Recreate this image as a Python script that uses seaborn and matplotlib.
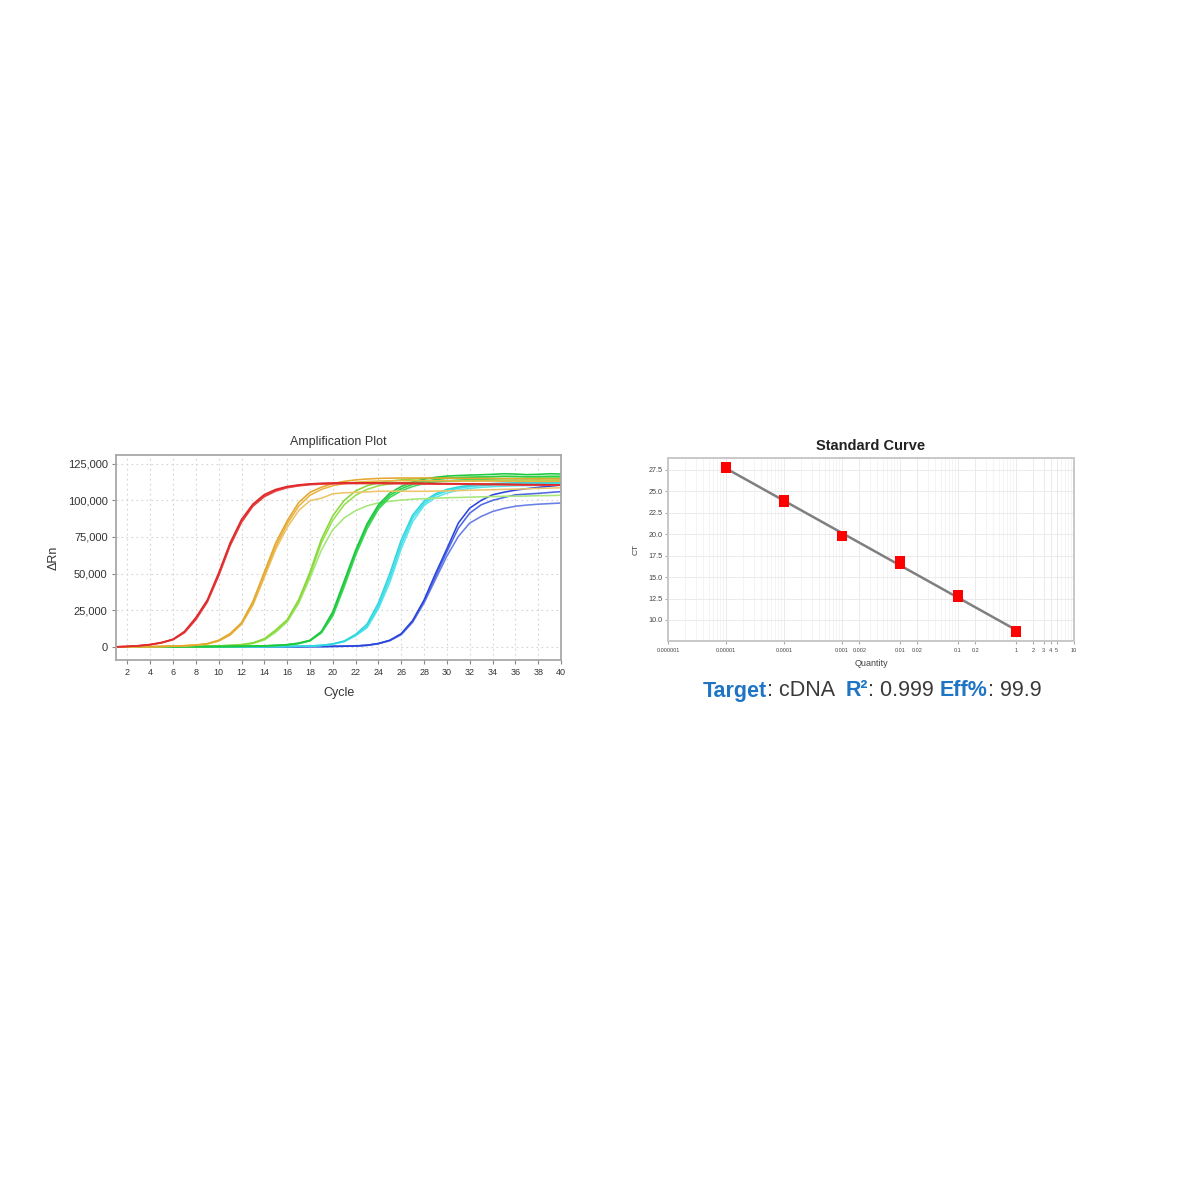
import numpy as np
import pandas as pd
import matplotlib
matplotlib.use("Agg")
import matplotlib.pyplot as plt
import matplotlib.ticker as mticker
from matplotlib.offsetbox import TextArea, HPacker, AnnotationBbox
import seaborn as sns

# ---- amplification plot data (delta Rn, thousands) ----
cycles = list(range(1, 41))

red_a = [0.0, 0.3, 0.8, 1.6, 3.0, 5.2, 10.5, 20.0, 32.0, 50.5,
         71.0, 87.0, 97.5, 104.0, 107.5, 109.5, 110.6, 111.3, 111.7, 111.9,
         112.0, 112.0, 112.0, 112.0, 111.9, 111.9, 111.8, 111.7, 111.6, 111.5,
         111.4, 111.3, 111.2, 111.1, 111.0, 110.9, 110.8, 110.8, 110.7, 110.6]
red_b = [0.0, 0.3, 0.7, 1.5, 2.8, 5.0, 10.0, 19.0, 31.0, 49.0,
         69.5, 85.5, 96.5, 103.0, 106.8, 109.0, 110.2, 111.0, 111.4, 111.6,
         111.7, 111.7, 111.7, 111.7, 111.6, 111.6, 111.5, 111.4, 111.3, 111.3,
         111.2, 111.1, 111.0, 110.9, 110.9, 110.8, 110.7, 110.6, 110.6, 110.5]
red_c = [0.0, 0.2, 0.7, 1.4, 2.7, 4.8, 9.6, 18.5, 30.5, 48.5,
         69.0, 85.0, 96.0, 102.5, 106.3, 108.6, 109.9, 110.7, 111.1, 111.3,
         111.4, 111.5, 111.5, 111.5, 111.4, 111.4, 111.3, 111.2, 111.1, 111.1,
         111.0, 110.9, 110.8, 110.8, 110.7, 110.6, 110.5, 110.5, 110.4, 110.4]

gold_a = [0.0, 0.0, 0.1, 0.2, 0.3, 0.5, 0.8, 1.2, 2.2, 4.5,
          9.0, 16.5, 31.0, 51.0, 71.0, 86.0, 98.5, 105.5, 109.0, 111.5,
          113.0, 114.0, 114.6, 115.0, 115.2, 115.3, 115.3, 115.3, 115.2, 115.2,
          115.1, 115.0, 115.0, 114.9, 114.9, 114.8, 114.8, 114.7, 114.7, 114.6]
gold_b = [0.0, 0.0, 0.1, 0.1, 0.2, 0.4, 0.7, 1.1, 2.0, 4.0,
          8.2, 15.5, 29.0, 48.5, 68.5, 84.0, 96.0, 103.5, 107.5, 110.0,
          111.5, 112.4, 112.9, 113.2, 113.4, 113.5, 113.5, 113.5, 113.4, 113.4,
          113.3, 113.3, 113.2, 113.2, 113.1, 113.1, 113.0, 113.0, 113.0, 113.0]
gold_c = [0.0, 0.0, 0.1, 0.1, 0.2, 0.4, 0.7, 1.1, 2.0, 4.0,
          8.0, 15.5, 28.5, 47.5, 66.5, 81.5, 93.0, 99.8, 101.5, 104.5,
          105.2, 105.5, 105.8, 106.2, 106.3, 106.3, 106.2, 106.2, 106.3, 106.5,
          106.7, 106.9, 107.1, 107.3, 107.5, 107.7, 107.9, 108.2, 108.4, 108.6]

lgreen_a = [0.0, 0.0, 0.0, 0.0, 0.1, 0.1, 0.2, 0.3, 0.5, 0.7,
            1.0, 1.5, 2.7, 5.5, 11.5, 18.5, 32.0, 51.0, 73.5, 89.5,
            100.0, 106.5, 110.0, 112.0, 113.2, 114.0, 114.6, 115.0, 115.3, 115.5,
            115.7, 115.8, 116.0, 116.2, 116.3, 116.2, 116.0, 115.9, 116.0, 116.0]
lgreen_b = [0.0, 0.0, 0.0, 0.0, 0.1, 0.1, 0.2, 0.3, 0.4, 0.6,
            0.9, 1.4, 2.5, 5.0, 10.5, 17.5, 30.5, 49.0, 71.0, 86.5,
            97.0, 103.5, 107.5, 110.0, 111.3, 112.0, 112.5, 112.8, 113.0, 113.1,
            113.2, 113.3, 113.4, 113.4, 113.5, 113.4, 113.3, 113.4, 113.5, 113.5]
lgreen_c = [0.0, 0.0, 0.0, 0.0, 0.1, 0.1, 0.2, 0.3, 0.4, 0.6,
            0.9, 1.3, 2.3, 4.7, 10.0, 17.0, 29.5, 47.0, 66.0, 80.0,
            88.0, 93.0, 96.3, 98.3, 99.4, 100.2, 100.8, 101.2, 101.5, 101.8,
            102.0, 102.2, 102.4, 102.6, 102.8, 102.9, 103.0, 103.2, 103.3, 103.5]

green_a = [0.0, 0.0, 0.0, 0.0, 0.0, 0.0, 0.1, 0.1, 0.2, 0.2,
           0.3, 0.4, 0.5, 0.7, 1.0, 1.5, 2.5, 4.5, 10.5, 24.0,
           45.0, 66.0, 84.0, 97.0, 105.0, 109.5, 112.5, 114.5, 115.8, 116.6,
           117.0, 117.3, 117.5, 117.8, 118.2, 118.0, 117.6, 117.8, 118.2, 118.0]
green_b = [0.0, 0.0, 0.0, 0.0, 0.0, 0.0, 0.1, 0.1, 0.1, 0.2,
           0.3, 0.3, 0.5, 0.7, 0.9, 1.4, 2.3, 4.2, 10.0, 22.5,
           43.0, 64.5, 82.5, 95.5, 103.5, 108.0, 111.0, 113.0, 114.2, 115.0,
           115.5, 115.8, 116.0, 116.2, 116.5, 116.4, 116.2, 116.3, 116.5, 116.5]
green_c = [0.0, 0.0, 0.0, 0.0, 0.0, 0.0, 0.1, 0.1, 0.1, 0.2,
           0.2, 0.3, 0.4, 0.6, 0.9, 1.3, 2.2, 4.0, 9.5, 21.0,
           41.0, 62.5, 80.5, 94.0, 102.0, 106.5, 109.5, 111.5, 112.7, 113.4,
           113.9, 114.2, 114.4, 114.6, 114.8, 114.8, 114.7, 114.8, 115.0, 115.0]

cyan_a = [0.0, 0.0, 0.0, 0.0, 0.0, 0.0, 0.0, 0.0, 0.0, 0.0,
          0.1, 0.1, 0.1, 0.2, 0.2, 0.3, 0.4, 0.6, 1.0, 2.0,
          4.0, 8.5, 15.5, 30.0, 50.0, 73.0, 90.0, 99.5, 104.5, 107.5,
          109.2, 110.3, 111.0, 111.5, 111.8, 112.0, 112.2, 112.3, 112.4, 112.5]
cyan_b = [0.0, 0.0, 0.0, 0.0, 0.0, 0.0, 0.0, 0.0, 0.0, 0.0,
          0.1, 0.1, 0.1, 0.2, 0.2, 0.3, 0.4, 0.6, 1.0, 1.9,
          3.7, 8.0, 14.0, 27.7, 47.0, 70.0, 88.0, 98.0, 103.5, 106.5,
          108.3, 109.4, 110.1, 110.6, 110.9, 111.1, 111.3, 111.4, 111.5, 111.6]
cyan_c = [0.0, 0.0, 0.0, 0.0, 0.0, 0.0, 0.0, 0.0, 0.0, 0.0,
          0.1, 0.1, 0.1, 0.1, 0.2, 0.3, 0.4, 0.5, 0.9, 1.8,
          3.5, 7.5, 13.0, 26.0, 44.0, 67.0, 85.5, 96.5, 102.0, 105.0,
          107.0, 108.2, 108.9, 109.4, 109.7, 110.0, 110.1, 110.3, 110.4, 110.5]

blue_a = [0.0, 0.0, 0.0, 0.0, 0.0, 0.0, 0.0, 0.0, 0.0, 0.0,
          0.0, 0.0, 0.0, 0.0, 0.1, 0.1, 0.1, 0.2, 0.2, 0.3,
          0.4, 0.6, 1.1, 2.3, 4.5, 9.0, 18.0, 32.0, 50.0, 67.0,
          84.5, 94.7, 100.0, 103.8, 105.6, 107.0, 108.0, 108.9, 109.7, 110.4]
blue_b = [0.0, 0.0, 0.0, 0.0, 0.0, 0.0, 0.0, 0.0, 0.0, 0.0,
          0.0, 0.0, 0.0, 0.0, 0.1, 0.1, 0.1, 0.2, 0.2, 0.3,
          0.4, 0.6, 1.0, 2.2, 4.3, 8.6, 17.3, 31.0, 48.0, 65.0,
          81.0, 91.3, 97.0, 100.0, 102.0, 103.8, 104.3, 104.8, 105.4, 106.0]
blue_c = [0.0, 0.0, 0.0, 0.0, 0.0, 0.0, 0.0, 0.0, 0.0, 0.0,
          0.0, 0.0, 0.0, 0.0, 0.1, 0.1, 0.1, 0.2, 0.2, 0.3,
          0.4, 0.6, 1.0, 2.1, 4.2, 8.3, 16.8, 30.0, 46.0, 62.0,
          75.3, 84.5, 89.0, 92.4, 94.5, 96.0, 96.8, 97.4, 97.8, 98.2]

# drawing order: first listed is drawn first (bottom)
wells = {
    "blue_c": (blue_c, "#6a7fe6"), "blue_b": (blue_b, "#4f68e2"), "blue_a": (blue_a, "#2a46dc"),
    "cyan_c": (cyan_c, "#5ce6ec"), "cyan_b": (cyan_b, "#40dde6"), "cyan_a": (cyan_a, "#2fd6e0"),
    "lgreen_c": (lgreen_c, "#a6e67a"), "lgreen_b": (lgreen_b, "#96e04e"), "lgreen_a": (lgreen_a, "#86d83a"),
    "green_c": (green_c, "#3fd85a"), "green_b": (green_b, "#2cd04a"), "green_a": (green_a, "#1ec83e"),
    "gold_c": (gold_c, "#eec46a"), "gold_b": (gold_b, "#e8b443"), "gold_a": (gold_a, "#e4a62c"),
    "red_c": (red_c, "#e85050"), "red_b": (red_b, "#e43c3c"), "red_a": (red_a, "#e02a2a"),
}

# ---- standard curve data ----
quantity = [1e-5, 1e-5, 1e-5, 1e-4, 1e-4, 1e-4, 1e-3, 1e-3, 1e-3,
            1e-2, 1e-2, 1e-2, 1e-1, 1e-1, 1e-1, 1.0, 1.0, 1.0]
ct_values = [27.7, 27.8, 27.75, 23.8, 24.0, 23.9, 19.75, 19.85, 19.8,
             16.5, 16.85, 16.7, 12.7, 12.9, 12.8, 8.6, 8.7, 8.65]
sc_ticks = [1e-6, 1e-5, 1e-4, 1e-3, 2e-3, 1e-2, 2e-2, 0.1, 0.2, 1, 2, 3, 4, 5, 10]
sc_ticklabels = ["0.000001", "0.00001", "0.0001", "0.001", "0.002", "0.01", "0.02",
                 "0.1", "0.2", "1", "2", "3", "4", "5", "10"]

sns.set_style("white")
plt.rcParams["font.family"] = ["Liberation Sans", "DejaVu Sans"]

fig = plt.figure(figsize=(12, 12), dpi=100)

# ---------------- amplification plot ----------------
rows = []
for name, (vals, col) in wells.items():
    for c, v in zip(cycles, vals):
        rows.append({"well": name, "cycle": c, "drn": v * 1000})
amp = pd.DataFrame(rows)
palette = {k: v[1] for k, v in wells.items()}

ax1 = fig.add_axes([116 / 1200, 1 - 660 / 1200, 445 / 1200, 205 / 1200])
sns.lineplot(data=amp, x="cycle", y="drn", hue="well", hue_order=list(wells.keys()),
             palette=palette, estimator=None, legend=False, linewidth=1.15, ax=ax1)
ax1.set_xlim(1, 40)
ax1.set_ylim(-9000, 131000)
ax1.set_xticks(range(2, 41, 2))
ax1.set_yticks(range(0, 125001, 25000))
ax1.yaxis.set_major_formatter(mticker.FuncFormatter(lambda v, p: f"{v:,.0f}"))
ax1.tick_params(axis="x", labelsize=6.5, length=3, width=0.8, color="#888888",
                labelcolor="#333333", pad=3)
ax1.tick_params(axis="y", labelsize=8, length=3, width=0.8, color="#888888",
                labelcolor="#333333", pad=3)
ax1.tick_params(bottom=True, left=True)
ax1.grid(True, color="#d4d4d4", linestyle=(0, (1.5, 3)), linewidth=0.8)
for s in ax1.spines.values():
    s.set_color("#a8a8a8")
    s.set_linewidth(1.3)
ax1.set_xlabel("Cycle", fontsize=9, color="#333333", labelpad=7)
ax1.set_ylabel("\u0394Rn", fontsize=9, color="#333333", labelpad=6)
ax1.set_title("Amplification Plot", fontsize=9, color="#333333", pad=7)

# ---------------- standard curve ----------------
ax2 = fig.add_axes([668 / 1200, 1 - 641 / 1200, 406 / 1200, 183 / 1200])
ax2.set_xscale("log")
ax2.set_xlim(1e-6, 10)
ax2.set_ylim(7.55, 28.9)

logq = np.log10(quantity)
slope, intercept = np.polyfit(logq, ct_values, 1)
fit_x = np.array([min(quantity), max(quantity)])
fit = pd.DataFrame({"q": fit_x, "ct": slope * np.log10(fit_x) + intercept})
sns.lineplot(data=fit, x="q", y="ct", color="#7f7f7f", linewidth=1.8, ax=ax2)
std = pd.DataFrame({"q": quantity, "ct": ct_values})
sns.scatterplot(data=std, x="q", y="ct", marker="s", s=42, color="#ff0000",
                edgecolor="#ff0000", linewidth=0, zorder=5, ax=ax2)

ax2.xaxis.set_major_locator(mticker.FixedLocator(sc_ticks))
ax2.xaxis.set_major_formatter(mticker.FixedFormatter(sc_ticklabels))
ax2.xaxis.set_minor_locator(mticker.LogLocator(base=10, subs=np.arange(2, 10)))
ax2.xaxis.set_minor_formatter(mticker.NullFormatter())
ax2.set_yticks(np.arange(10, 27.6, 2.5))
ax2.yaxis.set_major_formatter(mticker.FormatStrFormatter("%.1f"))
ax2.grid(True, which="major", color="#e8e8e8", linewidth=0.6)
ax2.grid(True, which="minor", axis="x", color="#f0f0f0", linewidth=0.5)
ax2.tick_params(axis="x", which="major", labelsize=4, length=2, color="#aaaaaa",
                labelcolor="#444444", pad=3)
ax2.tick_params(axis="y", which="major", labelsize=5.2, length=2, color="#aaaaaa",
                labelcolor="#444444", pad=2)
ax2.tick_params(which="minor", length=0)
ax2.tick_params(bottom=True, left=True)
for s in ax2.spines.values():
    s.set_color("#c8c8c8")
    s.set_linewidth(1.4)
ax2.set_xlabel("Quantity", fontsize=6.5, color="#444444", labelpad=4)
ax2.set_ylabel("CT", fontsize=6, color="#444444", labelpad=6)
ax2.set_title("Standard Curve", fontsize=10.5, fontweight="bold", color="#222222", pad=6)

# ---------------- summary line ----------------
blue = "#1f74c4"
grey = "#3a3a3a"
parts = [("Target", blue, "bold"), (": cDNA  ", grey, "normal"),
         ("R\u00b2", blue, "bold"), (": 0.999 ", grey, "normal"),
         ("Eff%", blue, "bold"), (": 99.9", grey, "normal")]
boxes = [TextArea(t, textprops=dict(color=c, fontweight=w, fontsize=15.5,
                                    family=["Liberation Sans", "DejaVu Sans"]))
         for t, c, w in parts]
pack = HPacker(children=boxes, align="baseline", pad=0, sep=0)
ab = AnnotationBbox(pack, (872 / 1200, 1 - 691 / 1200), xycoords="figure fraction",
                    box_alignment=(0.5, 0.5), frameon=False, annotation_clip=False)
ax2.add_artist(ab)

fig.savefig("out.png", dpi=100)
